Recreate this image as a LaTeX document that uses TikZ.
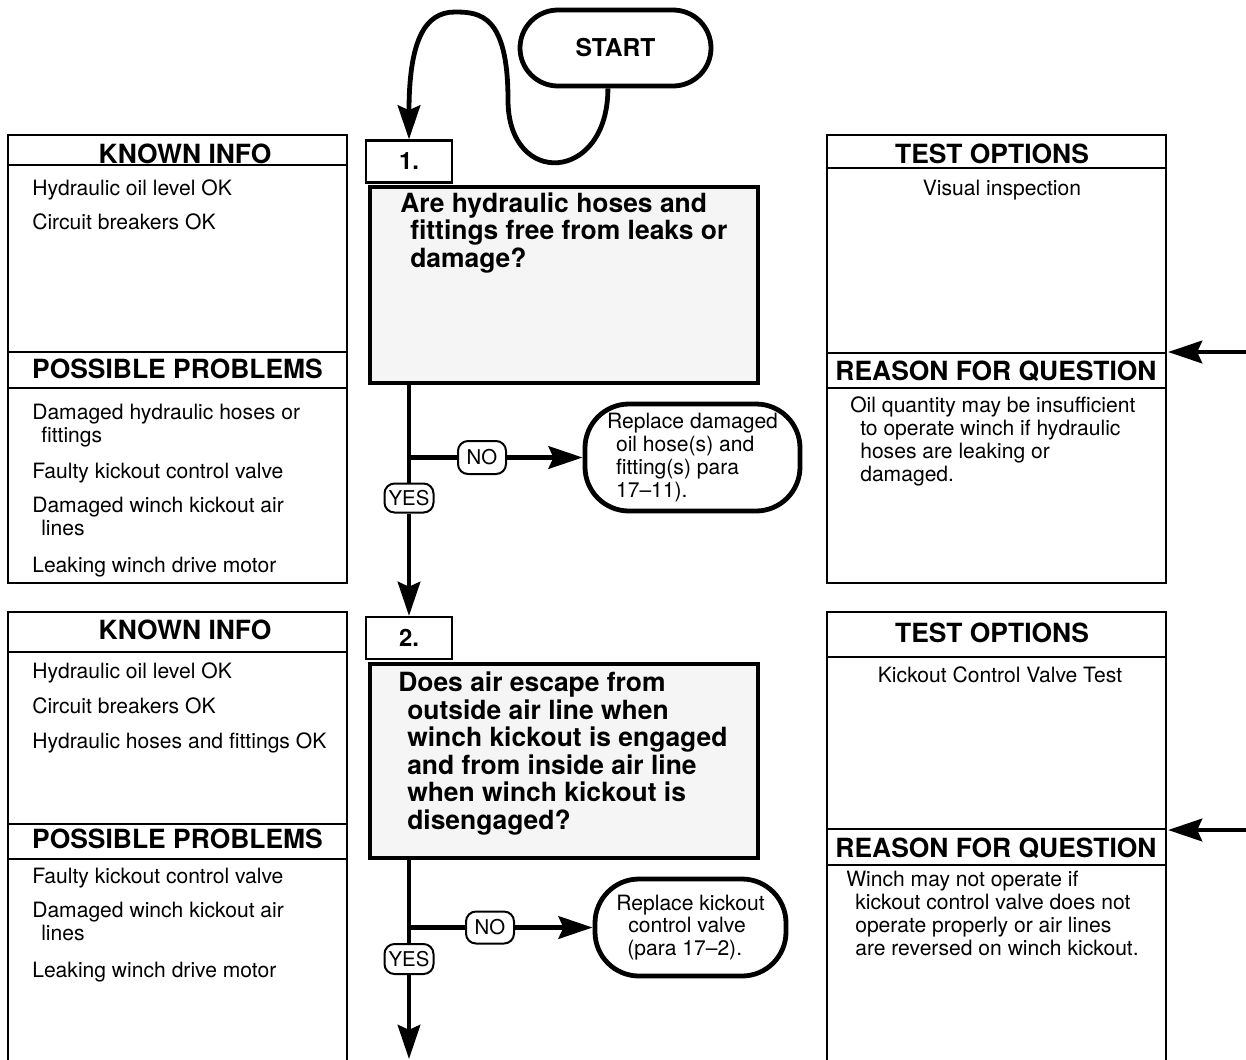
\documentclass[tikz,border=0pt]{standalone}
\usepackage{fontspec}
\setmainfont{TeX Gyre Heros}
\usetikzlibrary{arrows.meta}
\definecolor{qgray}{RGB}{245,245,245}
\newcommand{\bodyfont}{\fontsize{15}{16.2}\selectfont}
\newcommand{\headfont}{\fontsize{18.8}{19.5}\selectfont\bfseries}

\begin{document}
\begin{tikzpicture}[x=0.25mm, y=-0.25mm,
    panel/.style={line width=0.6mm},
    link/.style={line width=1.2mm},
    flow/.style={line width=1.2mm, -{Stealth[length=8.5mm, width=5.6mm, inset=1.2mm]}},
    head/.style={anchor=base, inner sep=0pt, font=\headfont},
    item/.style={anchor=base west, inner sep=0pt, align=left, font=\bodyfont},
    numbox/.style={draw, line width=0.55mm, fill=white, minimum width=21.5mm, minimum height=10.5mm, inner sep=0pt, font=\fontsize{17}{17}\selectfont\bfseries},
    qbox/.style={draw, line width=1.2mm, fill=qgray, minimum width=97mm},
    qtext/.style={anchor=base west, inner sep=0pt, align=left, font=\headfont},
    endbox/.style={draw, line width=1.2mm, rounded corners=11mm, inner sep=0pt, align=left, font=\bodyfont},
    tag/.style={draw, line width=0.5mm, fill=white, rounded corners=2.5mm, inner sep=0pt, font=\fontsize{14.5}{14.5}\selectfont}
]
    \clip (0,0) rectangle (1246,1059);

    % Start
    \node[endbox, rounded corners=9.5mm, minimum width=47.75mm, minimum height=19mm, font=\fontsize{17.5}{17.5}\selectfont\bfseries] (start) at (615.5,48) {START};

    % Step 1 panels (multi-line texts sit on their last baseline)
    \draw[panel] (8,135) rectangle (347,583);
    \draw[panel] (8,165) -- (347,165);
    \draw[panel] (8,352) -- (347,352);
    \draw[panel] (8,388) -- (347,388);
    \node[head] (known1) at (185,163) {KNOWN INFO};
    \node[item] (k1a) at (32,195) {Hydraulic oil level OK};
    \node[item] (k1b) at (32,229) {Circuit breakers OK};
    \node[head] (prob1) at (177.5,378) {POSSIBLE PROBLEMS};
    \node[item] (p1a) at (32,442) {Damaged hydraulic hoses or\\\hspace*{2.25mm}fittings};
    \node[item] (p1b) at (32,478) {Faulty kickout control valve};
    \node[item] (p1c) at (32,535) {Damaged winch kickout air\\\hspace*{2.25mm}lines};
    \node[item] (p1d) at (32,572) {Leaking winch drive motor};

    \draw[panel] (827,135) rectangle (1166,583);
    \draw[panel] (827,168) -- (1166,168);
    \draw[panel] (827,353) -- (1166,353);
    \draw[panel] (827,388) -- (1166,388);
    \node[head] (test1) at (992,163) {TEST OPTIONS};
    \node[anchor=base, inner sep=0pt, font=\bodyfont] (t1a) at (1002,195) {Visual inspection};
    \node[head] (why1) at (996,380) {REASON FOR QUESTION};
    \node[item] (w1a) at (850,481) {Oil quantity may be insufficient\\\hspace*{2.5mm}to operate winch if hydraulic\\\hspace*{2.5mm}hoses are leaking or\\\hspace*{2.5mm}damaged.};
    \coordinate (in1) at (1246,352);
    \coordinate (rq1) at (1168,352);

    % Question 1
    \node[qbox, minimum height=49mm] (q1) at (564,285) {};
    \node[numbox] (num1) at (409,161.5) {1.};
    \node[qtext] (q1t) at (400,267) {Are hydraulic hoses and\\\hspace*{2.5mm}fittings free from leaks or\\\hspace*{2.5mm}damage?};
    \node[endbox, minimum width=53.75mm, minimum height=26.75mm] (fix1) at (692.5,457.5) {Replace damaged\\\hspace*{2.25mm}oil hose(s) and\\\hspace*{2.25mm}fitting(s) para\\\hspace*{2.25mm}17--11).};
    \node[tag, minimum width=12mm, minimum height=8.25mm] (no1) at (482,457.5) {NO};
    \node[tag, minimum width=12.25mm, minimum height=7.25mm] (yes1) at (409,498) {YES};

    % Step 2 panels
    \draw[panel] (8,1070) -- (8,612) -- (347,612) -- (347,1070);
    \draw[panel] (8,652) -- (347,652);
    \draw[panel] (8,824) -- (347,824);
    \draw[panel] (8,859) -- (347,859);
    \node[head] (known2) at (185,639) {KNOWN INFO};
    \node[item] (k2a) at (32,678) {Hydraulic oil level OK};
    \node[item] (k2b) at (32,713) {Circuit breakers OK};
    \node[item] (k2c) at (32,748) {Hydraulic hoses and fittings OK};
    \node[head] (prob2) at (177.5,848) {POSSIBLE PROBLEMS};
    \node[item] (p2a) at (32,883) {Faulty kickout control valve};
    \node[item] (p2b) at (32,940) {Damaged winch kickout air\\\hspace*{2.25mm}lines};
    \node[item] (p2c) at (32,977) {Leaking winch drive motor};

    \draw[panel] (827,1070) -- (827,612) -- (1166,612) -- (1166,1070);
    \draw[panel] (827,657) -- (1166,657);
    \draw[panel] (827,829) -- (1166,829);
    \draw[panel] (827,865) -- (1166,865);
    \node[head] (test2) at (992,642) {TEST OPTIONS};
    \node[anchor=base, inner sep=0pt, font=\bodyfont] (t2a) at (1000,682) {Kickout Control Valve Test};
    \node[head] (why2) at (996,857) {REASON FOR QUESTION};
    \node[item] (w2a) at (846,955) {Winch may not operate if\\\hspace*{2.25mm}kickout control valve does not\\\hspace*{2.25mm}operate properly or air lines\\\hspace*{2.25mm}are reversed on winch kickout.};
    \coordinate (in2) at (1246,830);
    \coordinate (rq2) at (1168,830);

    % Question 2
    \node[qbox, minimum height=48.5mm] (q2) at (564,761) {};
    \node[numbox] (num2) at (409,638) {2.};
    \node[qtext] (q2t) at (398,829) {Does air escape from\\\hspace*{2.25mm}outside air line when\\\hspace*{2.25mm}winch kickout is engaged\\\hspace*{2.25mm}and from inside air line\\\hspace*{2.25mm}when winch kickout is\\\hspace*{2.25mm}disengaged?};
    \node[endbox, minimum width=47.75mm, minimum height=24.25mm] (fix2) at (690.5,927.5) {Replace kickout\\\hspace*{3mm}control valve\\\hspace*{2.75mm}(para 17--2).};
    \node[tag, minimum width=12mm, minimum height=8mm] (no2) at (490,927.5) {NO};
    \node[tag, minimum width=12.25mm, minimum height=7.5mm] (yes2) at (409,959) {YES};
    \coordinate (out) at (409,1059);

    % Connectors
    \draw[flow] ([xshift=-1.9mm]start.south) .. controls (608,183) and (508,188) .. (508,100)
        .. controls (508,15) and (480,12) .. (455,12)
        .. controls (425,12) and (409,40) .. (num1.north);
    \draw[link] (num1.center |- q1.south) -- (yes1.north);
    \coordinate (b1) at (num1.center |- fix1.west);
    \draw[link] (b1) -- (no1.west);
    \draw[flow] (no1.east) -- (fix1.west);
    \draw[flow] (yes1.south) -- (num2.north);
    \draw[link] (num2.center |- q2.south) -- (yes2.north);
    \coordinate (b2) at (num2.center |- fix2.west);
    \draw[link] (b2) -- (no2.west);
    \draw[flow] (no2.east) -- (fix2.west);
    \draw[flow] (yes2.south) -- (out);
    \draw[flow] (in1) -- (rq1);
    \draw[flow] (in2) -- (rq2);
\end{tikzpicture}
\end{document}
